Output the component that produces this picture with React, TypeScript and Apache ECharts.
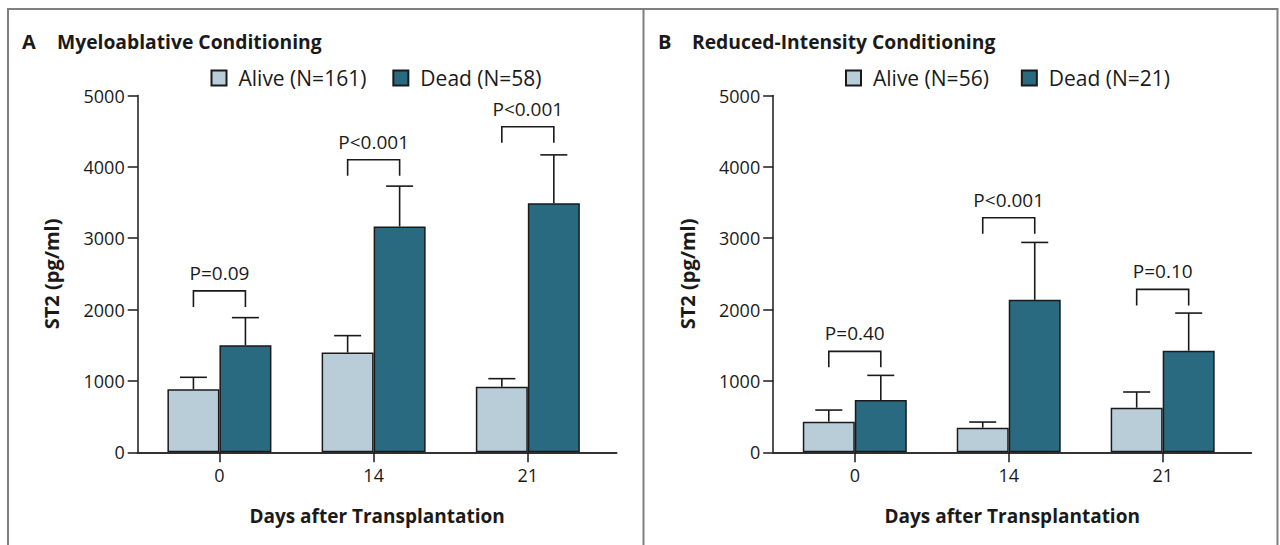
import React, { useEffect, useRef } from "react";
import * as echarts from "echarts";

const categories = ["0", "14", "21"];

// Panel A – Myeloablative conditioning
const aAliveName = "Alive (N=161)";
const aDeadName = "Dead (N=58)";
const aAlive = [883, 1397, 920];
const aAliveUpper = [1051, 1635, 1032];
const aDead = [1500, 3164, 3491];
const aDeadUpper = [1887, 3730, 4168];
const aBracket = [2262, 4100, 4563];
const aP = ["P=0.09", "P<0.001", "P<0.001"];

// Panel B – Reduced-intensity conditioning
const bAliveName = "Alive (N=56)";
const bDeadName = "Dead (N=21)";
const bAlive = [429, 345, 625];
const bAliveUpper = [592, 424, 845];
const bDead = [732, 2137, 1423];
const bDeadUpper = [1078, 2941, 1951];
const bBracket = [1415, 3286, 2283];
const bP = ["P=0.40", "P<0.001", "P=0.10"];

const yTicks = [0, 1000, 2000, 3000, 4000, 5000];

const FONT = "Open Sans";
const INK = "#1a1a1a";
const ALIVE_C = "#b9cdd9";
const DEAD_C = "#296a80";
const BAR_W = 52;
const CAP = 13.5;
const LEG = 16;

function App() {
  const ref = useRef<HTMLDivElement>(null);

  useEffect(() => {
    if (!ref.current) return;
    const chart = echarts.init(ref.current, null, { renderer: "svg" });
    const catIdx = categories.map((_, i) => i);

    const grids = [
      { left: 137.7, top: 95.5, width: 478.8, height: 356.8 },
      { left: 773.2, top: 95.5, width: 478, height: 356.8 },
    ];

    const xAxes = grids.map((_, g) => ({
      type: "value",
      gridIndex: g,
      min: -0.53,
      max: 2.575,
      splitLine: { show: false },
      axisLine: { show: true, onZero: false, lineStyle: { color: "#333", width: 2 } },
      axisTick: { show: true, customValues: catIdx, length: 10, lineStyle: { color: INK, width: 1.5 } },
      axisLabel: {
        customValues: catIdx,
        formatter: (v: number) => categories[Math.round(v)],
        fontSize: 18,
        fontFamily: FONT,
        color: INK,
        margin: 14,
      },
      name: "Days after Transplantation",
      nameLocation: "middle",
      nameGap: 54,
      nameTextStyle: { fontSize: 19, fontWeight: "bold", fontFamily: FONT, color: INK },
    }));

    const yAxes = grids.map((_, g) => ({
      type: "value",
      gridIndex: g,
      min: yTicks[0],
      max: yTicks[yTicks.length - 1],
      interval: yTicks[1] - yTicks[0],
      splitLine: { show: false },
      axisLine: { show: true, onZero: false, lineStyle: { color: INK, width: 1.5 } },
      axisTick: { show: true, length: 10, lineStyle: { color: INK, width: 1.5 } },
      axisLabel: {
        fontSize: 18,
        fontFamily: FONT,
        color: INK,
        margin: 13,
        formatter: (v: number) => String(v),
      },
      name: "ST2 (pg/ml)",
      nameLocation: "middle",
      nameGap: 76,
      nameTextStyle: { fontSize: 20, fontWeight: "bold", fontFamily: FONT, color: INK },
    }));

    const barSeries = (name: string, g: number, vals: number[], color: string) => ({
      type: "bar",
      name,
      xAxisIndex: g,
      yAxisIndex: g,
      data: vals.map((v, i) => [i, v]),
      barWidth: BAR_W,
      barGap: "0%",
      itemStyle: { color, borderColor: INK, borderWidth: 1.5 },
      z: 2,
    });

    const errSeries = (g: number, vals: number[], upper: number[], dx: number) => ({
      type: "custom",
      xAxisIndex: g,
      yAxisIndex: g,
      silent: true,
      z: 3,
      data: vals.map((v, i) => [i, v, upper[i]]),
      renderItem: (_p: any, api: any) => {
        const p0 = api.coord([api.value(0), api.value(1)]);
        const p1 = api.coord([api.value(0), api.value(2)]);
        const cx = p0[0] + dx;
        const st = { stroke: INK, lineWidth: 1.6 };
        return {
          type: "group",
          children: [
            { type: "line", shape: { x1: cx, y1: p0[1], x2: cx, y2: p1[1] }, style: st },
            { type: "line", shape: { x1: cx - CAP, y1: p1[1], x2: cx + CAP, y2: p1[1] }, style: st },
          ],
        };
      },
    });

    const bracketSeries = (g: number, tops: number[], labels: string[]) => ({
      type: "custom",
      xAxisIndex: g,
      yAxisIndex: g,
      silent: true,
      z: 4,
      data: tops.map((v, i) => [i, v]),
      renderItem: (params: any, api: any) => {
        const p = api.coord([api.value(0), api.value(1)]);
        const xl = p[0] - BAR_W / 2;
        const xr = p[0] + BAR_W / 2;
        return {
          type: "group",
          children: [
            {
              type: "polyline",
              shape: { points: [[xl, p[1] + LEG], [xl, p[1]], [xr, p[1]], [xr, p[1] + LEG]] },
              style: { stroke: INK, lineWidth: 1.6, fill: "none" },
            },
            {
              type: "text",
              x: p[0],
              y: p[1] - 18,
              style: {
                text: labels[params.dataIndex],
                align: "center",
                verticalAlign: "middle",
                fontSize: 19,
                fontFamily: FONT,
                fill: INK,
              },
            },
          ],
        };
      },
    });

    const legend = (left: number, names: string[], gap: number) => ({
      left,
      top: 67.5,
      padding: 0,
      itemWidth: 15,
      itemHeight: 15,
      itemGap: gap,
      icon: "rect",
      data: names,
      textStyle: { fontSize: 21, fontFamily: FONT, color: INK, lineHeight: 16, padding: [0, 0, 0, 7] },
    });

    const titleText = (x: number, text: string, size: number) => ({
      type: "text",
      x,
      y: 41,
      style: { text, fontSize: size, fontWeight: "bold", fontFamily: FONT, fill: INK, verticalAlign: "middle" },
    });

    chart.setOption({
      animation: false,
      backgroundColor: "#ffffff",
      grid: grids,
      xAxis: xAxes,
      yAxis: yAxes,
      legend: [
        legend(210.5, [aAliveName, aDeadName], 26),
        legend(845, [bAliveName, bDeadName], 32),
      ],
      graphic: [
        {
          type: "polyline",
          shape: { points: [[8, 560], [8, 9], [1277.5, 9], [1277.5, 560]] },
          style: { stroke: "#7f7f7f", lineWidth: 2, fill: "none" },
        },
        { type: "line", shape: { x1: 643.5, y1: 9, x2: 643.5, y2: 560 }, style: { stroke: "#7f7f7f", lineWidth: 2 } },
        titleText(22, "A", 20),
        titleText(57, "Myeloablative Conditioning", 19.3),
        titleText(658, "B", 20),
        titleText(692, "Reduced-Intensity Conditioning", 19.3),
      ],
      series: [
        barSeries(aAliveName, 0, aAlive, ALIVE_C),
        barSeries(aDeadName, 0, aDead, DEAD_C),
        errSeries(0, aAlive, aAliveUpper, -BAR_W / 2),
        errSeries(0, aDead, aDeadUpper, BAR_W / 2),
        bracketSeries(0, aBracket, aP),
        barSeries(bAliveName, 1, bAlive, ALIVE_C),
        barSeries(bDeadName, 1, bDead, DEAD_C),
        errSeries(1, bAlive, bAliveUpper, -BAR_W / 2),
        errSeries(1, bDead, bDeadUpper, BAR_W / 2),
        bracketSeries(1, bBracket, bP),
      ],
    });

    return () => chart.dispose();
  }, []);

  return (
    <div
      ref={ref}
      style={{ position: "fixed", left: 0, top: 0, width: 1280, height: 545, background: "#fff" }}
    />
  );
}

export default App;
